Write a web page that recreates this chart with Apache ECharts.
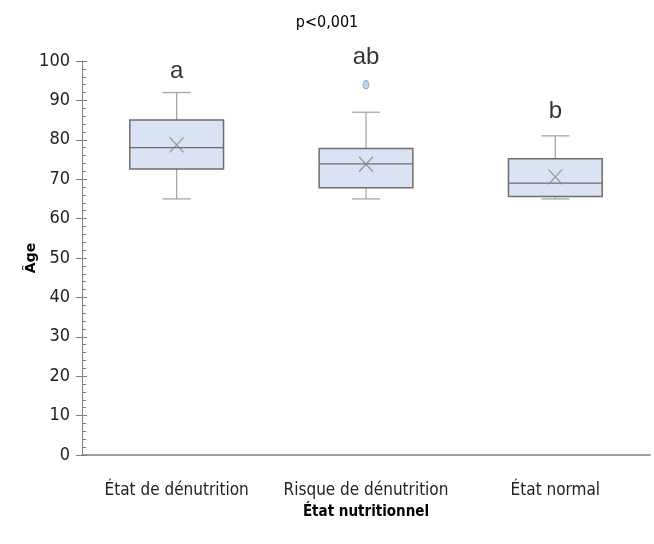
<!DOCTYPE html>
<html>
<head>
<meta charset="utf-8">
<script src="https://cdn.jsdelivr.net/npm/echarts@6/dist/echarts.min.js"></script>
<style>html,body{margin:0;padding:0;background:#fff}#c{width:654px;height:544px}</style>
</head>
<body>
<div id="c"></div>
<script>
var categories = ['État de dénutrition', 'Risque de dénutrition', 'État normal'];
// [min, Q1, median, Q3, max]
var boxValues = [
  [65, 72.6, 78, 85, 92],
  [65, 67.8, 73.9, 77.8, 87],
  [65, 65.6, 69, 75.2, 81]
];
var meanValues = [78.7, 73.8, 70.6];
var outliers = [[1, 94]];
var groupLetters = ['a', 'ab', 'b'];
var letterY = [97.3, 101, 87.2];
var yTicks = [0, 100, 10];

var FONT = '"Liberation Sans Narrow", "DejaVu Sans Condensed", "Liberation Sans", sans-serif';

function renderBox(params, api) {
  var i = api.value(0);
  var lo = api.coord([i, api.value(1)]);
  var q1 = api.coord([i, api.value(2)]);
  var med = api.coord([i, api.value(3)]);
  var q3 = api.coord([i, api.value(4)]);
  var hi = api.coord([i, api.value(5)]);
  var band = api.size([1, 0])[0];
  var bw = band * 0.495;
  var cw = bw * 0.3;
  var x = lo[0];
  var wStyle = { stroke: '#a6a6a6', lineWidth: 1.3 };
  return {
    type: 'group',
    children: [
      { type: 'line', shape: { x1: x, y1: q3[1], x2: x, y2: hi[1] }, style: wStyle },
      { type: 'line', shape: { x1: x, y1: q1[1], x2: x, y2: lo[1] }, style: wStyle },
      { type: 'line', shape: { x1: x - cw / 2, y1: hi[1], x2: x + cw / 2, y2: hi[1] }, style: wStyle },
      { type: 'line', shape: { x1: x - cw / 2, y1: lo[1], x2: x + cw / 2, y2: lo[1] }, style: wStyle },
      { type: 'rect', shape: { x: x - bw / 2, y: q3[1], width: bw, height: q1[1] - q3[1] },
        style: { fill: '#dae3f3', stroke: '#6e6e6e', lineWidth: 1.5 } },
      { type: 'line', shape: { x1: x - bw / 2, y1: med[1], x2: x + bw / 2, y2: med[1] },
        style: { stroke: '#6e6e6e', lineWidth: 1.3 } }
    ]
  };
}

var chart = echarts.init(document.getElementById('c'));
chart.setOption({
  animation: false,
  title: {
    text: 'p<0,001', left: 'center', top: 10,
    textStyle: { fontFamily: FONT, fontSize: 16, fontWeight: 'normal', color: '#000' }
  },
  grid: { left: 82, right: 4, top: 61, bottom: 89 },
  xAxis: {
    type: 'category', data: categories,
    name: 'État nutritionnel', nameLocation: 'middle', nameGap: 50, nameMoveOverlap: false,
    nameTextStyle: { fontFamily: FONT, fontSize: 15, fontWeight: 'bold', color: '#000' },
    axisLine: { lineStyle: { color: '#7f7f7f', width: 1.5 } },
    axisTick: { show: false },
    axisLabel: { fontFamily: FONT, fontSize: 17, color: '#222', margin: 27, interval: 0 },
    splitLine: { show: false }
  },
  yAxis: [{
    type: 'value', min: yTicks[0], max: yTicks[1], interval: yTicks[2],
    name: 'Âge', nameLocation: 'middle', nameGap: 44, nameMoveOverlap: false,
    nameTextStyle: { fontFamily: '"DejaVu Sans", sans-serif', fontSize: 14, fontWeight: 'bold', color: '#000' },
    axisLine: { show: true, lineStyle: { color: '#7f7f7f', width: 1 } },
    axisTick: { show: true, length: 6, lineStyle: { color: '#7f7f7f' } },
    minorTick: { show: false },
    axisLabel: { fontFamily: FONT, fontSize: 18, color: '#222', margin: 12 },
    splitLine: { show: false }
  }, {
    type: 'value', min: yTicks[0], max: yTicks[1], interval: yTicks[2], position: 'left',
    axisLine: { show: false },
    axisTick: { show: true, inside: true, length: 5, lineStyle: { color: '#7f7f7f' } },
    minorTick: { show: true, splitNumber: 5, length: 4, lineStyle: { color: '#7f7f7f' } },
    axisLabel: { show: false },
    splitLine: { show: false }
  }],
  series: [{
    type: 'custom',
    renderItem: renderBox,
    encode: { x: 0, y: [1, 2, 3, 4, 5] },
    data: boxValues.map(function (b, i) { return [i].concat(b); }),
    z: 3
  }, {
    type: 'scatter',
    data: meanValues.map(function (v, i) { return [i, v]; }),
    symbol: 'path://M0,0L10,10M10,0L0,10',
    symbolSize: [14, 15],
    itemStyle: { color: 'none', borderColor: '#808080', borderWidth: 1.2 },
    z: 5
  }, {
    type: 'scatter',
    data: outliers,
    symbol: 'circle',
    symbolSize: [6, 8],
    itemStyle: { color: '#b4c7e7', borderColor: '#8497b0', borderWidth: 1 },
    z: 5
  }, {
    type: 'scatter',
    data: letterY.map(function (v, i) { return [i, v]; }),
    symbolSize: 0,
    clip: false,
    label: {
      show: true, position: 'inside',
      formatter: function (p) { return groupLetters[p.dataIndex]; },
      fontFamily: '"Liberation Sans", "DejaVu Sans", sans-serif', fontSize: 24, color: '#000'
    },
    z: 6
  }]
});
</script>
</body>
</html>
